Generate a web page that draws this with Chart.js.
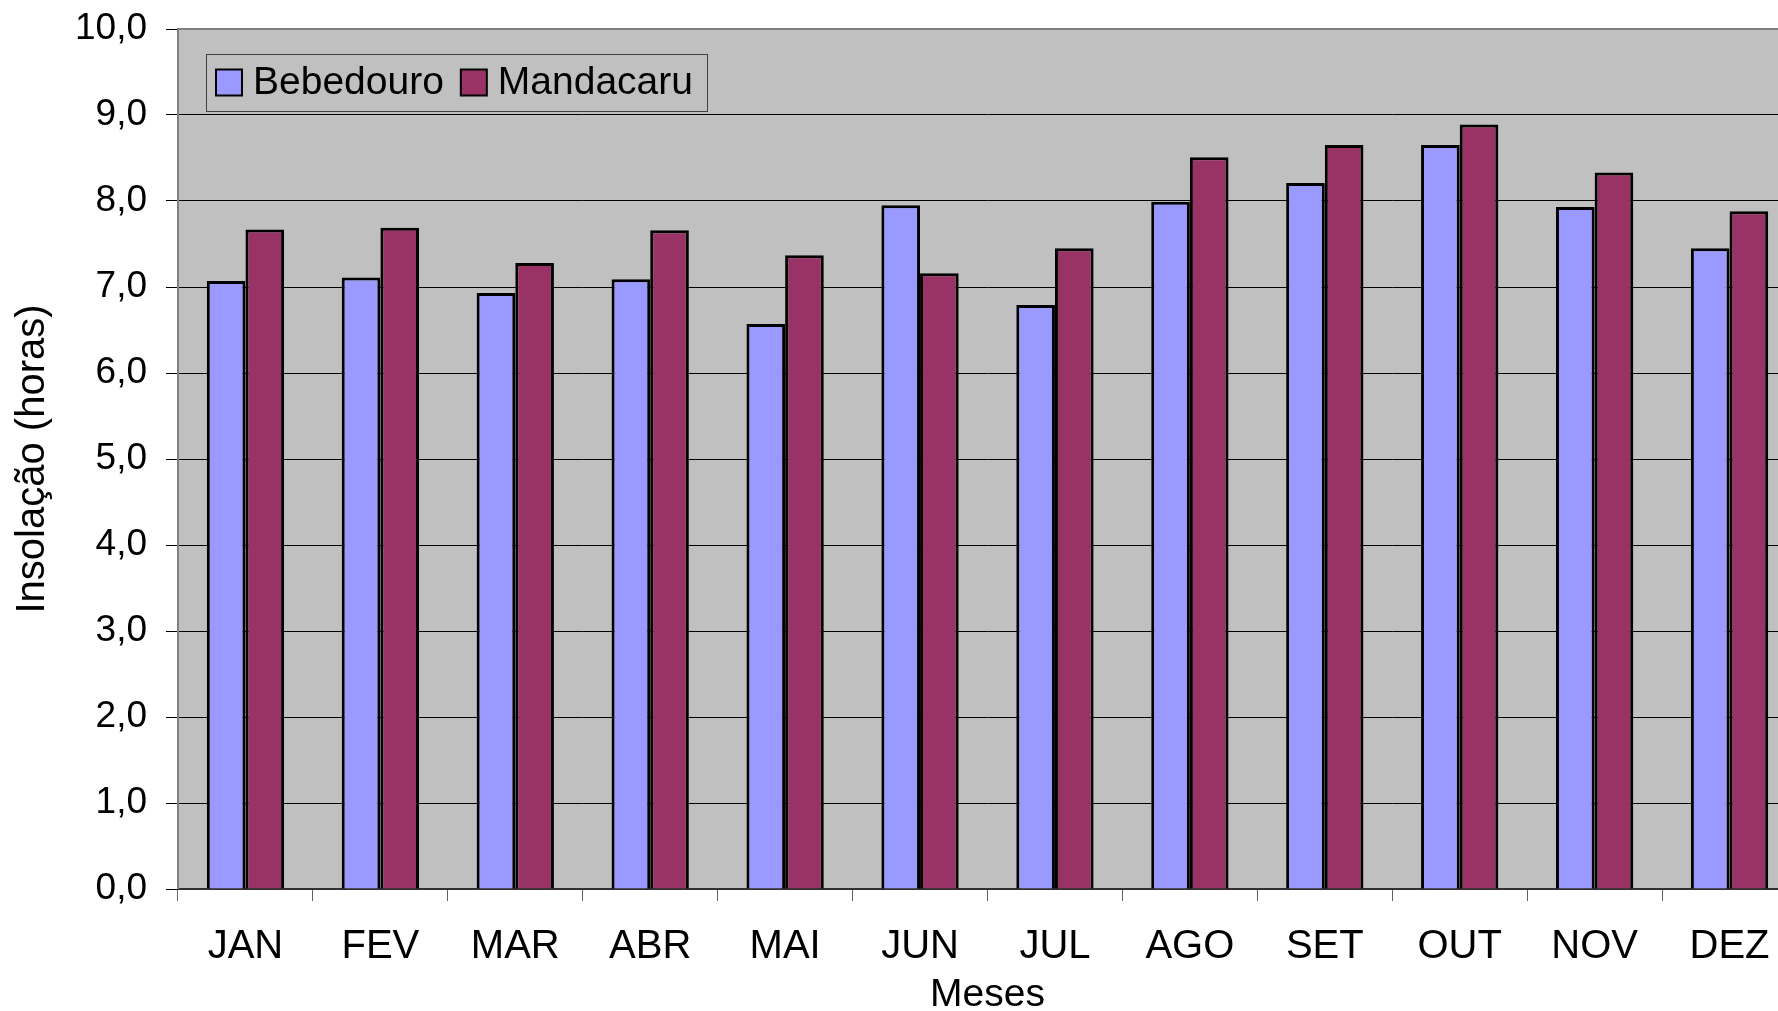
<!DOCTYPE html>
<html>
<head>
<meta charset="utf-8">
<script src="https://cdn.jsdelivr.net/npm/chart.js@4.4.1/dist/chart.umd.min.js"></script>
<style>
  html, body { margin: 0; padding: 0; background: #fff; overflow: hidden; }
  #wrap { width: 1800px; height: 1011px; position: relative; }
</style>
</head>
<body>
<div id="wrap"><canvas id="chart"></canvas></div>
<script>
const months = ['JAN', 'FEV', 'MAR', 'ABR', 'MAI', 'JUN', 'JUL', 'AGO', 'SET', 'OUT', 'NOV', 'DEZ'];
const bebedouro = [7.07, 7.11, 6.93, 7.09, 6.57, 7.95, 6.79, 7.99, 8.21, 8.65, 7.93, 7.45];
const mandacaru = [7.67, 7.69, 7.28, 7.66, 7.37, 7.16, 7.45, 8.51, 8.65, 8.89, 8.33, 7.88];
const yTicks = [0, 1, 2, 3, 4, 5, 6, 7, 8, 9, 10];

const FONT = '"Liberation Sans", Arial, sans-serif';

// grey plot area behind everything
const plotBg = {
  id: 'plotBg',
  beforeDraw(chart) {
    const { ctx, chartArea: a } = chart;
    ctx.save();
    ctx.fillStyle = '#C0C0C0';
    ctx.fillRect(a.left, a.top, a.right - a.left, a.bottom - a.top);
    ctx.restore();
  },
  afterDraw(chart) {
    // grey frame on top and left of the plot
    const { ctx, chartArea: a } = chart;
    ctx.save();
    ctx.strokeStyle = '#808080';
    ctx.lineWidth = 2;
    ctx.beginPath();
    ctx.moveTo(a.left, a.bottom);
    ctx.lineTo(a.left, a.top);
    ctx.lineTo(a.right, a.top);
    ctx.stroke();
    ctx.restore();
  }
};

// legend box sitting inside the plot, top left
const boxLegend = {
  id: 'boxLegend',
  afterDatasetsDraw(chart) {
    const { ctx } = chart;
    const x0 = 206, y0 = 54, x1 = 707, y1 = 111;
    const mid = (y0 + y1) / 2;
    ctx.save();
    ctx.fillStyle = '#C0C0C0';
    ctx.fillRect(x0, y0, x1 - x0, y1 - y0);
    ctx.strokeStyle = '#404040';
    ctx.lineWidth = 1;
    ctx.strokeRect(x0 + 0.5, y0 + 0.5, x1 - x0, y1 - y0);
    ctx.font = '39px ' + FONT;
    ctx.textBaseline = 'middle';
    let x = 216;
    chart.data.datasets.forEach(ds => {
      ctx.fillStyle = ds.backgroundColor;
      ctx.fillRect(x, mid - 13, 26, 26);
      ctx.strokeStyle = '#000';
      ctx.lineWidth = 2;
      ctx.strokeRect(x, mid - 13, 26, 26);
      x += 37;
      ctx.fillStyle = '#000';
      ctx.fillText(ds.label, x, mid + 1);
      x += ctx.measureText(ds.label).width + 17;
    });
    ctx.restore();
  }
};

new Chart(document.getElementById('chart'), {
  type: 'bar',
  data: {
    labels: months,
    datasets: [
      { label: 'Bebedouro', data: bebedouro, backgroundColor: '#9999FF', borderColor: '#000', borderWidth: 3 },
      { label: 'Mandacaru', data: mandacaru, backgroundColor: '#993366', borderColor: '#000', borderWidth: 3 }
    ]
  },
  options: {
    responsive: true,
    maintainAspectRatio: false,
    animation: false,
    devicePixelRatio: 1,
    categoryPercentage: 0.573,
    barPercentage: 1.0,
    layout: { padding: { top: 29, right: 3, left: 0, bottom: 0 } },
    plugins: {
      legend: { display: false },
      tooltip: { enabled: false }
    },
    scales: {
      x: {
        offset: true,
        grid: {
          offset: true,
          drawOnChartArea: false,
          drawTicks: true,
          tickLength: 12,
          color: '#606060',
          lineWidth: 1
        },
        border: { display: true, color: '#303030', width: 2 },
        ticks: {
          color: '#000',
          font: { family: FONT, size: 40 },
          padding: 22,
          maxRotation: 0,
          autoSkip: false
        },
        title: {
          display: true,
          text: 'Meses',
          color: '#000',
          font: { family: FONT, size: 39, lineHeight: 0.8 },
          padding: 0
        },
        afterFit(scale) {
          scale.height = 122;
          scale.paddingLeft = 0;
          scale.paddingRight = 0;
        }
      },
      y: {
        min: 0,
        max: 10,
        afterBuildTicks(scale) { scale.ticks = yTicks.map(v => ({ value: v })); },
        grid: {
          color: '#000',
          lineWidth: 1,
          drawTicks: true,
          tickLength: 12
        },
        border: { display: false },
        ticks: {
          color: '#000',
          font: { family: FONT, size: 37 },
          padding: 19,
          callback: v => v.toFixed(1).replace('.', ',')
        },
        title: {
          display: true,
          text: 'Insolação (horas)',
          color: '#000',
          font: { family: FONT, size: 40 },
          padding: { top: 9, bottom: 0 }
        },
        afterFit(scale) {
          scale.width = 178;
          scale.paddingTop = 0;
          scale.paddingBottom = 0;
        }
      }
    }
  },
  plugins: [plotBg, boxLegend]
});
</script>
</body>
</html>
